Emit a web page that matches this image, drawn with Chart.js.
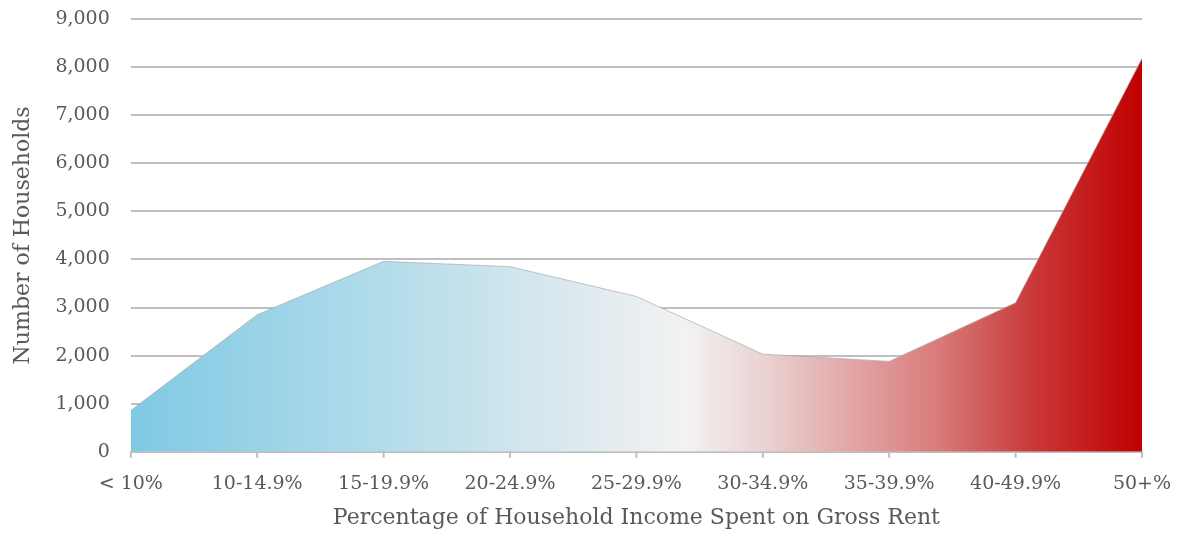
<!DOCTYPE html>
<html>
<head>
<meta charset="utf-8">
<script src="https://cdn.jsdelivr.net/npm/chart.js"></script>
<style>
  html, body { margin: 0; padding: 0; background: #fff; }
  #wrap { width: 1180px; height: 533px; }
</style>
</head>
<body>
<div id="wrap"><canvas id="rentChart"></canvas></div>
<script>
const categories = ['< 10%', '10-14.9%', '15-19.9%', '20-24.9%', '25-29.9%', '30-34.9%', '35-39.9%', '40-49.9%', '50+%'];
const households = [860, 2850, 3960, 3850, 3230, 2030, 1880, 3100, 8180];
const yTicks = [0, 1000, 2000, 3000, 4000, 5000, 6000, 7000, 8000, 9000];

const textColor = '#595959';
const gridColor = '#bfbfbf';
const serif = "'DejaVu Serif', 'Liberation Serif', serif";

function areaGradient(context) {
  const area = context.chart.chartArea;
  if (!area) return '#9fd3e8';
  const g = context.chart.ctx.createLinearGradient(area.left, 0, area.right, 0);
  g.addColorStop(0, '#80c9e4');
  g.addColorStop(0.25, '#b2dcea');
  g.addColorStop(0.42, '#d9e8ee');
  g.addColorStop(0.55, '#f2f2f2');
  g.addColorStop(0.63, '#ead0d0');
  g.addColorStop(0.8, '#d97a7a');
  g.addColorStop(0.9, '#c83434');
  g.addColorStop(1, '#c00000');
  return g;
}

// short tick marks under the x axis (the long transparent ticks only make room for labels)
const shortTicks = {
  id: 'shortTicks',
  afterDraw(chart) {
    const x = chart.scales.x;
    const c = chart.ctx;
    c.save();
    c.strokeStyle = gridColor;
    c.lineWidth = 2;
    x.ticks.forEach((t, i) => {
      const px = x.getPixelForTick(i);
      c.beginPath();
      c.moveTo(px, x.top);
      c.lineTo(px, x.top + 6);
      c.stroke();
    });
    c.restore();
  }
};

const ctx = document.getElementById('rentChart').getContext('2d');
new Chart(ctx, {
  type: 'line',
  data: {
    labels: categories,
    datasets: [{
      label: 'Households',
      data: households,
      fill: 'origin',
      backgroundColor: areaGradient,
      borderColor: 'rgba(170,170,170,0.7)',
      borderWidth: 1,
      pointRadius: 0,
      tension: 0
    }]
  },
  options: {
    responsive: true,
    maintainAspectRatio: false,
    animation: false,
    layout: { padding: { left: 10, right: 38, top: 19, bottom: 2 } },
    scales: {
      x: {
        offset: false,
        grid: {
          drawOnChartArea: false,
          drawTicks: true,
          tickLength: 21,
          tickColor: 'rgba(0,0,0,0)'
        },
        border: { display: true, color: gridColor, width: 2 },
        ticks: {
          color: textColor,
          font: { family: serif, size: 19 },
          maxRotation: 0,
          align: 'center',
          padding: 0
        },
        title: {
          display: true,
          text: 'Percentage of Household Income Spent on Gross Rent',
          color: textColor,
          font: { family: serif, size: 22 },
          padding: { top: 9, bottom: 0 }
        }
      },
      y: {
        min: 0,
        max: 9000,
        afterBuildTicks: axis => { axis.ticks = yTicks.map(v => ({ value: v })); },
        grid: {
          color: gridColor,
          lineWidth: 2,
          drawTicks: true,
          tickLength: 19,
          tickColor: 'rgba(0,0,0,0)'
        },
        border: { display: false },
        ticks: {
          color: textColor,
          font: { family: serif, size: 19 },
          padding: 2,
          callback: v => v.toLocaleString('en-US')
        },
        title: {
          display: true,
          text: 'Number of Households',
          color: textColor,
          font: { family: serif, size: 22 },
          padding: { top: 0, bottom: 17 }
        }
      }
    },
    plugins: {
      legend: { display: false },
      tooltip: { enabled: false }
    }
  },
  plugins: [shortTicks]
});
</script>
</body>
</html>
